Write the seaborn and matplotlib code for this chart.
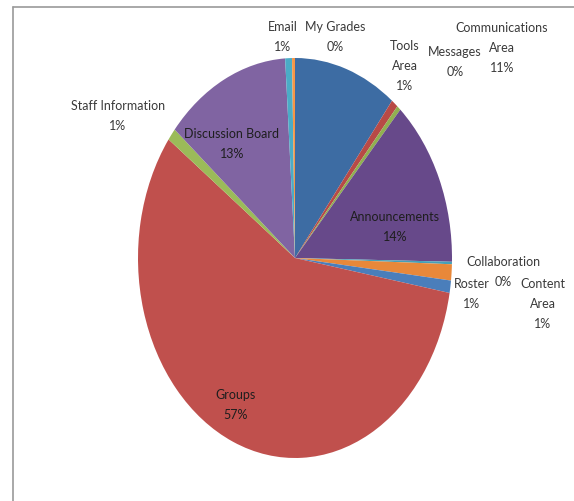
import matplotlib.pyplot as plt
import seaborn as sns
from matplotlib.lines import Line2D

sns.set_theme(style="white")
plt.rcParams["font.family"] = ["Lato", "DejaVu Sans"]

# ----------------------------
# Data (clockwise from 12 o'clock)
# ----------------------------
areas = ["Communications\nArea", "Tools\nArea", "Messages", "Announcements",
         "Collaboration", "Roster", "Content\nArea", "Groups",
         "Staff Information", "Discussion Board", "Email", "My Grades"]
shares = [10.6, 0.7, 0.4, 13.6, 0.2, 1.3, 1.0, 57.3, 1.0, 12.9, 0.7, 0.3]
pct_labels = ["11%", "1%", "0%", "14%", "0%", "1%", "1%", "57%", "1%", "13%", "1%", "0%"]

colors = ["#3d6ca3", "#b84a46", "#91b050", "#67498a", "#45a0b8", "#e8883a",
          "#4a7ebb", "#c0504d", "#9bbb59", "#8064a2", "#4bacc6", "#f79646"]

# label placement in pixels (x, y from top-left of the 574x501 image)
label_pos = [(502, 48), (405, 66), (455, 62), (395, 227),
             (503, 272), (472, 294), (543, 304), (236, 405),
             (118, 116), (232, 144), (283, 37), (335, 37)]
inside = {"Announcements", "Groups", "Discussion Board"}
LINE_PX = 20.5

W, H = 574, 501
fig = plt.figure(figsize=(W / 100, H / 100), dpi=100)

# pie is stretched into an ellipse (taller than wide), like the original
ax = fig.add_axes([138 / W, 1 - 458 / H, 314 / W, 400 / H])
ax.pie(shares, colors=colors, startangle=90, counterclock=False,
       wedgeprops=dict(linewidth=0))
ax.set_aspect("auto")
ax.set_xlim(-1, 1)
ax.set_ylim(-1, 1)
ax.axis("off")

# each label line is its own text so wide lines don't box over neighbours
for name, pct, (px, py) in zip(areas, pct_labels, label_pos):
    col = "#1e1e1e" if name in inside else "#3a3a3a"
    lines = f"{name}\n{pct}".split("\n")
    n = len(lines)
    for i, line in enumerate(lines):
        ly = py + (i - (n - 1) / 2) * LINE_PX
        fig.text(px / W, 1 - ly / H, line, ha="center", va="center",
                 fontsize=9, color=col)

# chart frame (top and left edges visible)
fig.add_artist(Line2D([13 / W, 1], [1 - 7 / H, 1 - 7 / H], color="#9a9a9a", lw=1.2))
fig.add_artist(Line2D([13 / W, 13 / W], [0, 1 - 7 / H], color="#9a9a9a", lw=1.2))

fig.savefig("out.png", dpi=100)
